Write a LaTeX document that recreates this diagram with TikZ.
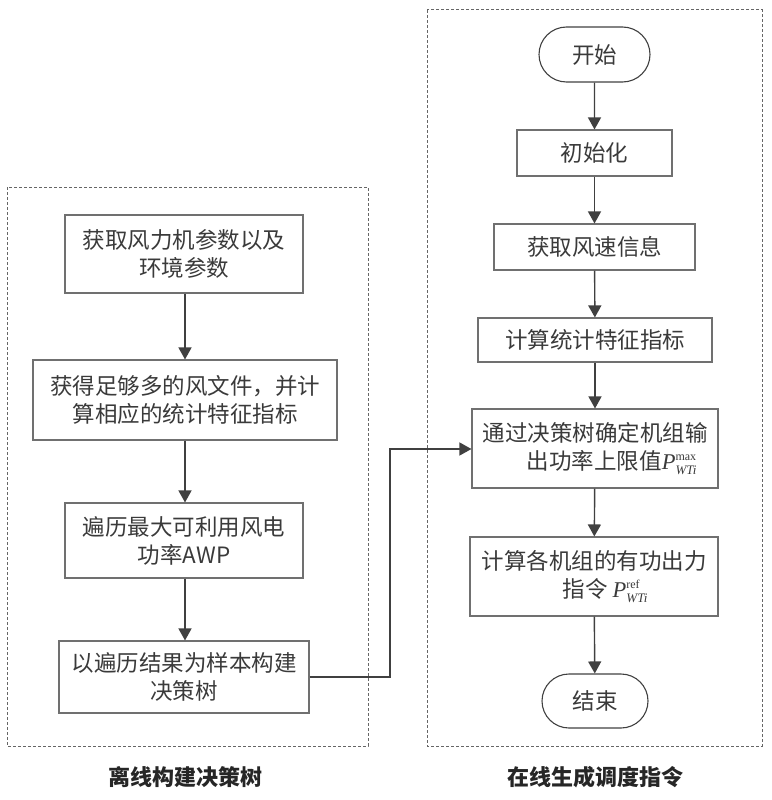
\documentclass[tikz,border=0pt]{standalone}
\usepackage{fontspec}
\newfontfamily\cjk{Noto Sans CJK SC}
\newfontfamily\tms{Liberation Serif}
\usetikzlibrary{arrows.meta,shapes.misc}
\definecolor{txt}{HTML}{3A3A3A}
\definecolor{brd}{HTML}{707070}
\definecolor{arr}{HTML}{404040}
\tikzset{
  box/.style={draw=brd,line width=1.1pt,rectangle,align=center,text=txt,
    font=\cjk\fontsize{22.5}{28}\selectfont,inner sep=0pt},
  term/.style={draw=black!75,line width=1.1pt,rounded rectangle,align=center,text=txt,
    font=\cjk\fontsize{22.5}{28}\selectfont,inner sep=0pt},
  flow/.style={draw=arr,line width=1.4pt,-{Triangle[width=13pt,length=12pt]}},
  frame/.style={draw=black!60,line width=1pt,dash pattern=on 3pt off 2pt},
  captext/.style={text=black!85,font=\cjk\fontsize{22}{26}\selectfont\bfseries}
}
\newcommand{\Pv}[1]{$\mbox{\tms\itshape P}_{\mbox{\tms\itshape\fontsize{13}{13}\selectfont WTi}}^{\mbox{\tms\fontsize{12}{12}\selectfont #1}}$}
\begin{document}
\begin{tikzpicture}[x=1pt,y=-1pt]
\useasboundingbox (0,0) rectangle (771,800);
% frames
\draw[frame] (7,187) rectangle (368,746);
\draw[frame] (427,10) rectangle (762,746);
% left column
\node[box,minimum width=238pt,minimum height=78pt] (b1) at (184,254) {获取风力机参数以及\\环境参数};
\node[box,minimum width=304pt,minimum height=80pt] (b2) at (185,400) {获得足够多的风文件，并计\\算相应的统计特征指标};
\node[box,minimum width=238pt,minimum height=75pt] (b3) at (184,540.5) {遍历最大可利用风电\\功率AWP};
\node[box,minimum width=250pt,minimum height=72pt] (b4) at (184,677) {以遍历结果为样本构建\\决策树};
% right column
\node[term,minimum width=111pt,minimum height=55pt] (st) at (594.5,54.5) {开始};
\node[box,minimum width=155pt,minimum height=46pt] (in) at (594.5,153) {初始化};
\node[box,minimum width=201pt,minimum height=46pt] (wi) at (594.5,247) {获取风速信息};
\node[box,minimum width=234pt,minimum height=44pt] (co) at (595,340) {计算统计特征指标};
\node[box,minimum width=246pt,minimum height=79pt] (de) at (595,448.5) {通过决策树确定机组输\\\hspace*{1.5em}出功率上限值\Pv{max}};
\node[box,minimum width=248pt,minimum height=79pt] (ca) at (594,576.5) {计算各机组的有功出力\\\hspace*{1em}指令 \Pv{ref}};
\node[term,minimum width=106pt,minimum height=54pt] (en) at (595,701) {结束};
% arrows
\draw[flow] (b1.south -| 185,0) -- (b2.north -| 185,0);
\draw[flow] (b2.south -| 185,0) -- (b3.north -| 185,0);
\draw[flow] (b3.south -| 185,0) -- (b4.north -| 185,0);
\draw[flow] (st) -- (in);
\draw[flow] (in) -- (wi);
\draw[flow] (wi) -- (co);
\draw[flow] (co) -- (de);
\draw[flow] (de) -- (ca);
\draw[flow] (ca) -- (en);
\coordinate (k1) at (390,677);
\coordinate (k2) at (390,449);
\draw[flow] (b4.east) -- (k1) -- (k2) -- (de.west |- k2);
% captions
\node[captext] (c1) at (185,777) {离线构建决策树};
\node[captext] (c2) at (595,777) {在线生成调度指令};
\end{tikzpicture}
\end{document}
